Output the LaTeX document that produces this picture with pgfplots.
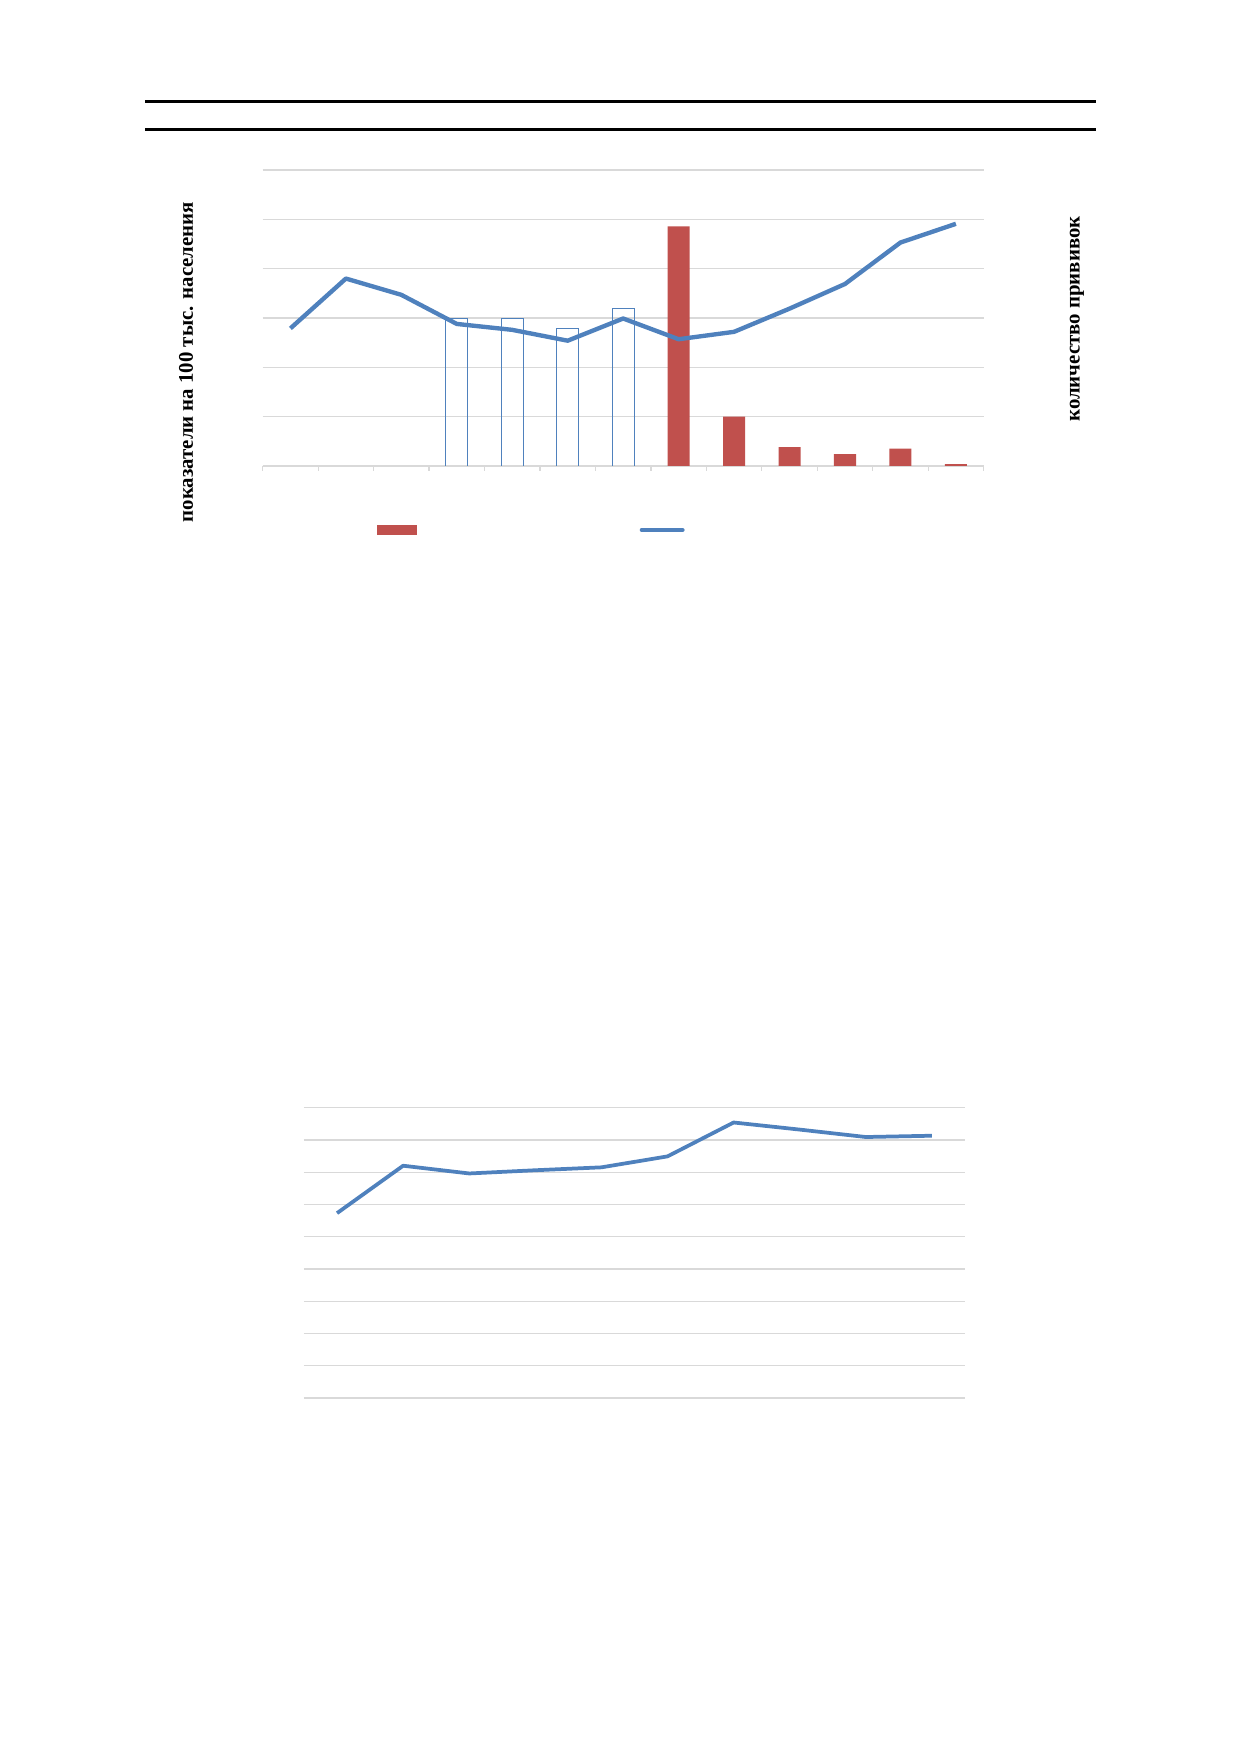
\documentclass[border=0pt]{standalone}
\usepackage{pgfplots}
\pgfplotsset{compat=1.18}
\usepackage{fontspec}
\setmainfont{Liberation Serif}
\definecolor{barred}{HTML}{C0504D}
\definecolor{lineblue}{HTML}{4F81BD}
\definecolor{gridgray}{HTML}{D9D9D9}
\begin{document}
\begin{tikzpicture}[x=0.4805pt,y=0.4805pt]
\useasboundingbox (0,0) rectangle (1239,1752);
\draw[line width=1.3pt] (145,1650.3) -- (1096,1650.3);
\draw[line width=1.3pt] (145,1622.7) -- (1096,1622.7);
\node[rotate=90, font=\bfseries\fontsize{10}{12}\selectfont] at (186,1390) {показатели на 100 тыс. населения};
\node[rotate=90, font=\bfseries\fontsize{10}{12}\selectfont] at (1077,1433) {количество прививок};
\begin{axis}[at={(126.23pt,617.92pt)}, anchor=south west, scale only axis,
  width=346.4pt, height=142.2pt,
  xmin=0.5, xmax=13.5, ymin=0, ymax=6,
  ytick={0,1,...,6}, yticklabels={},
  xtick={0.5,1.5,...,13.5}, xticklabels={},
  ymajorgrids, grid style={gridgray, line width=0.6pt},
  axis x line*=bottom, axis y line*=left,
  x axis line style={gridgray, line width=0.6pt, -},
  y axis line style={draw=none},
  ytick style={draw=none},
  tick align=outside, major tick length=2.4pt,
  xtick style={gridgray, line width=0.6pt},
  clip=false, unbounded coords=jump,
  legend columns=2,
  legend style={draw=none, fill=none, at={(0.158,-0.216)}, anchor=west, inner sep=0pt,
    /tikz/every even column/.append style={column sep=0pt}},
]
% hollow bars (outline only, open at the base)
\addplot[lineblue, line width=0.55pt, forget plot]
  coordinates {(3.8,0) (3.8,2.99) (4.2,2.99) (4.2,0) (4,nan)
               (4.8,0) (4.8,2.99) (5.2,2.99) (5.2,0) (5,nan)
               (5.8,0) (5.8,2.79) (6.2,2.79) (6.2,0) (6,nan)
               (6.8,0) (6.8,3.19) (7.2,3.19) (7.2,0)};
\addplot[ybar, bar width=10.6pt, bar shift=0pt, draw=none, fill=barred,
  legend image code/.code={\fill[barred] (0pt,-2.4pt) rectangle (19.2pt,2.4pt);}]
  coordinates {(8,4.86) (9,1.00) (10,0.38) (11,0.24) (12,0.35) (13,0.04)};
\addlegendentry{\hspace*{103pt}}
\addplot[lineblue, line width=2.1pt, line join=round,
  legend image code/.code={\draw[lineblue, line width=2.1pt, line cap=round] (0pt,0pt) -- (19.5pt,0pt);}]
  coordinates {(1,2.79) (2,3.80) (3,3.47) (4,2.88) (5,2.76) (6,2.54) (7,2.99)
               (8,2.57) (9,2.72) (10,3.19) (11,3.69) (12,4.53) (13,4.91)};
\addlegendentry{\hspace*{60pt}}
\end{axis}
\begin{axis}[at={(146.07pt,170.10pt)}, anchor=south west, scale only axis,
  width=317.6pt, height=139.5pt,
  xmin=0.5, xmax=10.5, ymin=0, ymax=9,
  ytick={0,1,...,9}, yticklabels={},
  xtick=\empty,
  ymajorgrids, grid style={gridgray, line width=0.6pt},
  axis line style={draw=none},
  ytick style={draw=none},
  clip=false,
]
\addplot[lineblue, line width=1.8pt, line join=round]
  coordinates {(1,5.73) (2,7.20) (3,6.96) (4,7.06) (5,7.15) (6,7.49) (7,8.54) (8,8.32) (9,8.09) (10,8.13)};
\end{axis}
\end{tikzpicture}
\end{document}
